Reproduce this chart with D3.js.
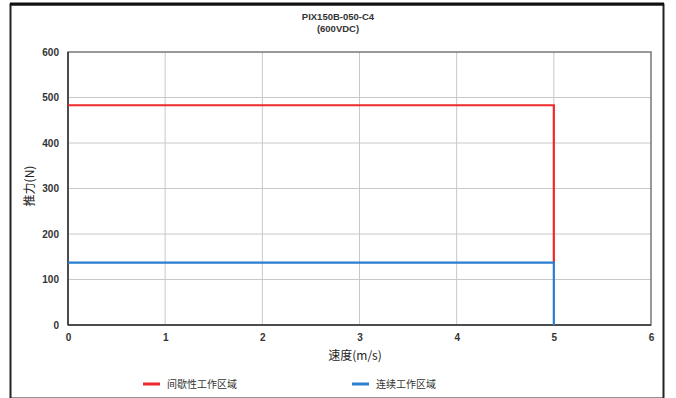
<!DOCTYPE html>
<html><head><meta charset="utf-8">
<script src="https://cdn.jsdelivr.net/npm/d3@7"></script>
<style>body{margin:0;background:#fff}svg{display:block}</style>
</head><body>
<svg id="c" width="676" height="398"></svg>
<script>
const titleLines = ["PIX150B-050-C4", "(600VDC)"];
const xTicks = [0, 1, 2, 3, 4, 5, 6];
const yTicks = [0, 100, 200, 300, 400, 500, 600];
const seriesNames = ["间歇性工作区域", "连续工作区域"];
const seriesColors = ["#ee2a2a", "#2a7fd0"];
const peakX = [0, 5, 5];
const peakY = [483, 483, 137];
const contX = [0, 5, 5];
const contY = [137, 137, 0];
const xLabel = "速度(m/s)";
const yLabel = "推力(N)";

const svg = d3.select("#c");
// outer frame
svg.append("rect").attr("x", 10.5).attr("y", 4.5).attr("width", 653).attr("height", 394)
  .attr("fill", "none").attr("stroke", "#222").attr("stroke-width", 2);
svg.append("line").attr("x1", 10).attr("x2", 664).attr("y1", 4).attr("y2", 4).attr("stroke", "#111").attr("stroke-width", 3);

const m = {l: 68, r: 651, t: 52, b: 325};
const x = d3.scaleLinear().domain([0, 6]).range([m.l, m.r]);
const y = d3.scaleLinear().domain([0, 600]).range([m.b, m.t]);

// grid
const g = svg.append("g");
g.selectAll(".gx").data(xTicks.slice(1, -1)).join("line")
  .attr("x1", d => x(d)).attr("x2", d => x(d)).attr("y1", m.t).attr("y2", m.b)
  .attr("stroke", "#c8c8c8").attr("stroke-width", 1);
g.selectAll(".gy").data(yTicks.slice(1, -1)).join("line")
  .attr("y1", d => y(d)).attr("y2", d => y(d)).attr("x1", m.l).attr("x2", m.r)
  .attr("stroke", "#c8c8c8").attr("stroke-width", 1);
// plot border
svg.append("rect").attr("x", m.l).attr("y", m.t).attr("width", m.r - m.l).attr("height", m.b - m.t)
  .attr("fill", "none").attr("stroke", "#777").attr("stroke-width", 1.5);
svg.append("line").attr("x1", m.l).attr("x2", m.l).attr("y1", m.t).attr("y2", m.b).attr("stroke", "#333").attr("stroke-width", 1.5);
svg.append("line").attr("x1", m.l).attr("x2", m.r).attr("y1", m.b).attr("y2", m.b).attr("stroke", "#333").attr("stroke-width", 1.5);

// axes
const xAxis = d3.axisBottom(x).tickValues(xTicks).tickFormat(d3.format("d")).tickSize(0).tickPadding(9);
const yAxis = d3.axisLeft(y).tickValues(yTicks).tickFormat(d3.format("d")).tickSize(0).tickPadding(9);
const ax = svg.append("g").attr("transform", `translate(0,${m.b})`).call(xAxis);
const ay = svg.append("g").attr("transform", `translate(${m.l},0)`).call(yAxis);
[ax, ay].forEach(a => {
  a.select(".domain").remove();
  a.selectAll("text").attr("font-family", "Arial, 'Liberation Sans', sans-serif")
    .attr("font-size", 10).attr("font-weight", "bold").attr("fill", "#333");
});

// series
const line = d3.line().x(d => x(d[0])).y(d => y(d[1]));
svg.append("path").datum(peakX.map((v, i) => [v, peakY[i]])).attr("d", line)
  .attr("fill", "none").attr("stroke", seriesColors[0]).attr("stroke-width", 2.2);
svg.append("path").datum(contX.map((v, i) => [v, contY[i]])).attr("d", line)
  .attr("fill", "none").attr("stroke", seriesColors[1]).attr("stroke-width", 2.2);

// title
svg.append("g").selectAll("text").data(titleLines).join("text")
  .attr("x", 338).attr("y", (d, i) => 20 + i * 12).attr("text-anchor", "middle")
  .attr("font-family", "Arial, 'Liberation Sans', sans-serif").attr("font-size", 9.5)
  .attr("font-weight", "bold").attr("fill", "#333").text(d => d);

// axis titles
svg.append("text").attr("x", 355).attr("y", 360).attr("text-anchor", "middle")
  .attr("font-family", "'Noto Sans CJK SC', serif").attr("font-size", 12).attr("fill", "#222").text(xLabel);
svg.append("text").attr("transform", "translate(34,186) rotate(-90)").attr("text-anchor", "middle")
  .attr("font-family", "'Noto Sans CJK SC', serif").attr("font-size", 12).attr("fill", "#222").text(yLabel);

// legend
const legX = [143, 352];
const leg = svg.append("g").selectAll("g").data(seriesNames).join("g")
  .attr("transform", (d, i) => `translate(${legX[i]},384)`);
leg.append("line").attr("x1", 0).attr("x2", 17).attr("y1", 0).attr("y2", 0)
  .attr("stroke", (d, i) => seriesColors[i]).attr("stroke-width", 3);
leg.append("text").attr("x", 24).attr("y", 4).attr("font-family", "'Noto Sans CJK SC', sans-serif")
  .attr("font-size", 10).attr("fill", "#333").text(d => d);
</script>
</body></html>
